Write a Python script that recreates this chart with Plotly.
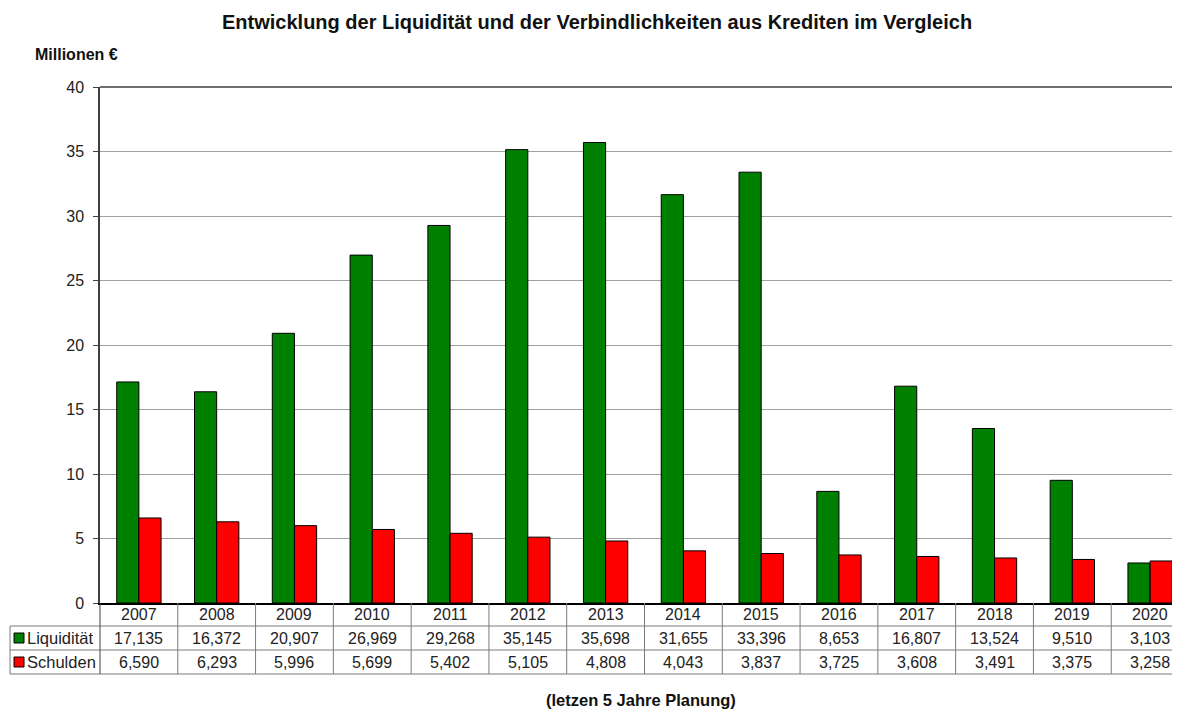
import plotly.graph_objects as go

years = ["2007", "2008", "2009", "2010", "2011", "2012", "2013",
         "2014", "2015", "2016", "2017", "2018", "2019", "2020"]
liquiditaet = [17.135, 16.372, 20.907, 26.969, 29.268, 35.145, 35.698,
               31.655, 33.396, 8.653, 16.807, 13.524, 9.510, 3.103]
schulden = [6.590, 6.293, 5.996, 5.699, 5.402, 5.105, 4.808,
            4.043, 3.837, 3.725, 3.608, 3.491, 3.375, 3.258]
series_names = ["Liquidität", "Schulden"]
series_colors = ["#008000", "#FF0000"]

W, H = 1200, 710
OFF = 8                      # page offset of the figure in the browser
cat_px = 77.8
n = len(years)
L, T, B = 100, 87, 603       # plot area in screen pixels
R = L + n * cat_px
x0, x1 = -0.5, n - 0.5

def px(xp):
    return (xp - L) / (R - L)

def py(yp):
    return (B - yp) / (B - T)

def xd2px(xd):
    return L + (xd - x0) * cat_px

fig = go.Figure()
xs = list(range(n))
for name, vals, col in zip(series_names, [liquiditaet, schulden], series_colors):
    fig.add_trace(go.Bar(x=xs, y=vals, name=name, marker_color=col,
                         marker_line_color="black", marker_line_width=1,
                         showlegend=False, hoverinfo="x+y"))

shapes = []
line_col = "#7a7a7a"
for yy in [626, 650, 674]:
    shapes.append(dict(type="line", xref="paper", yref="paper",
                       x0=px(10), x1=1, y0=py(yy), y1=py(yy),
                       line=dict(color=line_col, width=1)))
shapes.append(dict(type="line", xref="paper", yref="paper",
                   x0=px(10), x1=px(10), y0=py(626), y1=py(674),
                   line=dict(color=line_col, width=1)))
shapes.append(dict(type="line", xref="paper", yref="paper",
                   x0=px(100), x1=px(100), y0=py(603), y1=py(674),
                   line=dict(color="#404040", width=1)))
for i in range(n):
    xx = xd2px(i + 0.5)
    shapes.append(dict(type="line", xref="paper", yref="paper",
                       x0=px(xx), x1=px(xx), y0=py(603), y1=py(674),
                       line=dict(color=line_col, width=1)))
shapes.append(dict(type="line", xref="paper", yref="paper",
                   x0=0, x1=1, y0=1, y1=1,
                   line=dict(color="#404040", width=1.5)))
row_centers = [614.5, 638, 662]
for k, col in enumerate(series_colors):
    yc = row_centers[k + 1]
    shapes.append(dict(type="rect", xref="paper", yref="paper",
                       x0=px(14), x1=px(24), y0=py(yc - 5), y1=py(yc + 5),
                       fillcolor=col, line=dict(color="black", width=1)))

FAM = "Liberation Sans, Arial, sans-serif"
annotations = []
fnt = dict(family=FAM, size=16, color="#222222")
for i, yr in enumerate(years):
    annotations.append(dict(x=i, xref="x", y=py(row_centers[0]), yref="paper",
                            text=yr, showarrow=False, font=fnt,
                            xanchor="center", yanchor="middle"))
    for k, vals in enumerate([liquiditaet, schulden]):
        txt = f"{vals[i]:.3f}".replace(".", ",")
        annotations.append(dict(x=i, xref="x", y=py(row_centers[k + 1]), yref="paper",
                                text=txt, showarrow=False, font=fnt,
                                xanchor="center", yanchor="middle"))
for k, name in enumerate(series_names):
    annotations.append(dict(x=px(25), xref="paper", y=py(row_centers[k + 1]), yref="paper",
                            text=name, showarrow=False,
                            font=dict(family=FAM, size=16.5, color="#222222"),
                            xanchor="left", yanchor="middle"))

annotations.append(dict(x=px(33), xref="paper", y=py(55), yref="paper",
                        text="<b>Millionen €</b>", showarrow=False,
                        font=dict(family=FAM, size=16, color="#111111"),
                        xanchor="left", yanchor="middle"))
annotations.append(dict(x=px(641), xref="paper", y=py(700), yref="paper",
                        text="<b>(letzen 5 Jahre Planung)</b>", showarrow=False,
                        font=dict(family=FAM, size=16.5, color="#111111"),
                        xanchor="center", yanchor="middle"))
annotations.append(dict(x=px(597), xref="paper", y=py(22), yref="paper",
                        text="<b>Entwicklung der Liquidität und der Verbindlichkeiten aus Krediten im Vergleich</b>",
                        showarrow=False,
                        font=dict(family=FAM, size=20, color="#111111"),
                        xanchor="center", yanchor="middle"))

fig.update_layout(
    width=W, height=H,
    margin=dict(l=L - OFF, r=W - (R - OFF), t=T - OFF, b=H - (B - OFF), pad=0),
    paper_bgcolor="white", plot_bgcolor="white",
    barmode="group", bargap=0.43, bargroupgap=0,
    shapes=shapes, annotations=annotations,
    font=fnt,
    xaxis=dict(range=[x0, x1], showticklabels=False, showgrid=False,
               zeroline=False, showline=True, linecolor="black", linewidth=1.5,
               ticks="", fixedrange=True),
    yaxis=dict(range=[0, 40], tickvals=[0, 5, 10, 15, 20, 25, 30, 35, 40],
               showgrid=True, gridcolor="#a0a0a0", gridwidth=1,
               zeroline=False, showline=True, linecolor="#404040", linewidth=1.5,
               ticks="outside", ticklen=5, tickcolor="#404040",
               tickfont=fnt, ticklabelstandoff=6),
)

fig.write_html("out.html")
